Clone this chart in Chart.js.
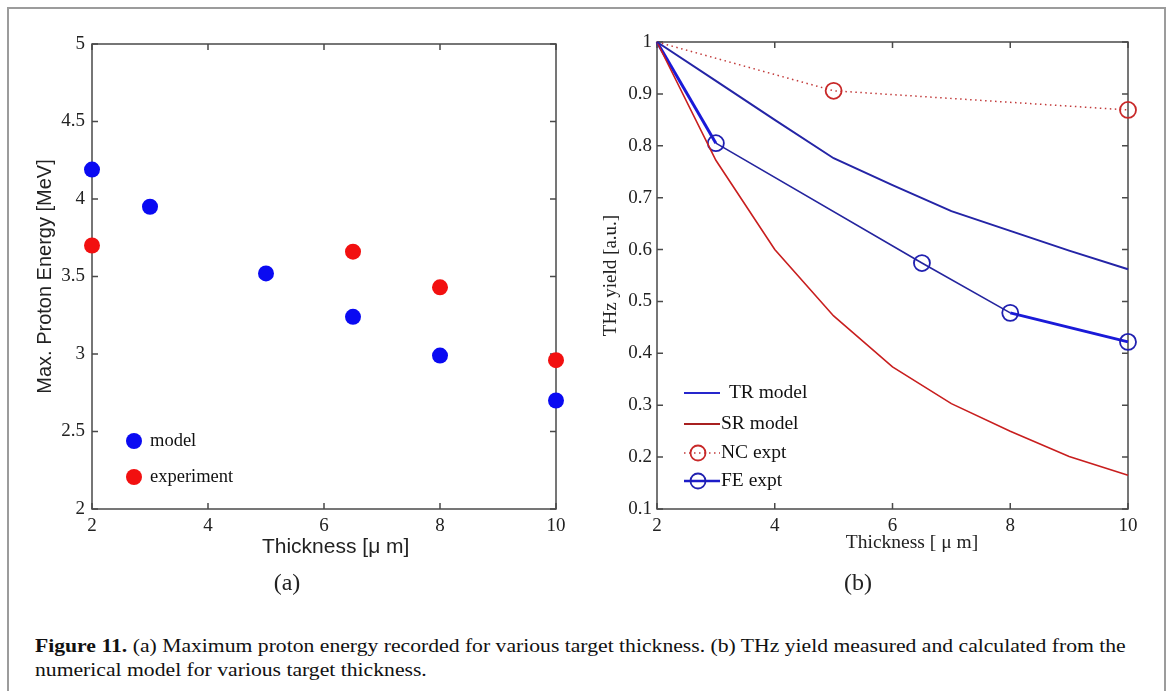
<!DOCTYPE html>
<html>
<head>
<meta charset="utf-8">
<script src="https://cdn.jsdelivr.net/npm/chart.js@4.4.1/dist/chart.umd.min.js"></script>
<style>
  html, body { margin: 0; padding: 0; background: #fff; }
  #page { position: relative; width: 1170px; height: 691px; overflow: hidden; background: #fff; }
  #frame { position: absolute; left: 7px; top: 7px; width: 1155px; height: 720px; border: 2px solid #9c9c9c; }
  .box { position: absolute; }
  .sub { position: absolute; font-family: "Liberation Serif", "Times New Roman", serif; font-size: 24px; color: #222; transform: translate(-50%, -50%); white-space: nowrap; }
  #caption { position: absolute; left: 35px; top: 634px; font-family: "Liberation Serif", "Times New Roman", serif; font-size: 19px; line-height: 24px; color: #111; white-space: nowrap; transform: scaleX(1.14); transform-origin: 0 0; }
</style>
</head>
<body>
<div id="page">
  <div id="frame"></div>
  <div class="box" style="left:0;top:0;width:590px;height:600px;"><canvas id="chartA"></canvas></div>
  <div class="box" style="left:590px;top:0;width:570px;height:600px;"><canvas id="chartB"></canvas></div>
  <div class="sub" style="left:287px;top:582px;">(a)</div>
  <div class="sub" style="left:858px;top:582px;">(b)</div>
  <div id="caption"><b>Figure 11.</b> (a) Maximum proton energy recorded for various target thickness. (b) THz yield measured and calculated from the<br>numerical model for various target thickness.</div>
</div>
<script>
// ---------- Data: panel (a) ----------
const modelThickness = [2, 3, 5, 6.5, 8, 10];
const modelEnergy    = [4.19, 3.95, 3.52, 3.24, 2.99, 2.70];
const exptThickness  = [2, 6.5, 8, 10];
const exptEnergy     = [3.70, 3.66, 3.43, 2.96];
const aXTicks = [2, 4, 6, 8, 10];
const aYTicks = [2, 2.5, 3, 3.5, 4, 4.5, 5];

// ---------- Data: panel (b) ----------
const modelGridThickness = [2, 3, 4, 5, 6, 7, 8, 9, 10];
const trModelYield = [1.0, 0.925, 0.85, 0.776, 0.724, 0.674, 0.636, 0.598, 0.562];
const srModelYield = [1.0, 0.772, 0.600, 0.472, 0.374, 0.303, 0.250, 0.201, 0.165];
const ncThickness = [2, 5, 10];
const ncYield     = [1.0, 0.906, 0.869];
const feThickness = [2, 3, 6.5, 8, 10];
const feYield     = [1.0, 0.805, 0.574, 0.478, 0.422];
const bXTicks = [2, 4, 6, 8, 10];
const bYTicks = [0.1, 0.2, 0.3, 0.4, 0.5, 0.6, 0.7, 0.8, 0.9, 1];

const SERIF = '"Liberation Serif", "Times New Roman", serif';
const SANS = '"Liberation Sans", Arial, sans-serif';

function pts(xs, ys) { return xs.map((x, i) => ({ x: x, y: ys[i] })); }

// plugin: axes box with inward ticks on all four sides
const boxTicks = {
  id: 'boxTicks',
  beforeDatasetsDraw(chart, args, opts) {
    const { ctx, chartArea: a, scales } = chart;
    const xs = scales.x, ys = scales.y;
    const L = opts.len || 6;
    ctx.save();
    ctx.strokeStyle = opts.color || '#444';
    ctx.lineWidth = opts.width || 1.5;
    ctx.strokeRect(a.left, a.top, a.right - a.left, a.bottom - a.top);
    ctx.beginPath();
    xs.ticks.forEach(t => {
      const p = xs.getPixelForValue(t.value);
      ctx.moveTo(p, a.bottom); ctx.lineTo(p, a.bottom - L);
      ctx.moveTo(p, a.top); ctx.lineTo(p, a.top + L);
    });
    ys.ticks.forEach(t => {
      const p = ys.getPixelForValue(t.value);
      ctx.moveTo(a.left, p); ctx.lineTo(a.left + L, p);
      ctx.moveTo(a.right, p); ctx.lineTo(a.right - L, p);
    });
    ctx.stroke();
    ctx.restore();
  }
};

// plugin: legend drawn inside the plot area
const innerLegend = {
  id: 'innerLegend',
  afterDatasetsDraw(chart, args, opts) {
    const { ctx } = chart;
    ctx.save();
    ctx.font = opts.font;
    ctx.textBaseline = 'middle';
    ctx.fillStyle = '#111';
    chart.data.datasets.forEach((ds, i) => {
      const it = opts.items[i];
      if (!it) return;
      const y = it.y;
      if (opts.kind === 'marker') {
        ctx.beginPath();
        ctx.fillStyle = ds.backgroundColor;
        ctx.arc(it.mx, y, ds.pointRadius, 0, Math.PI * 2);
        ctx.fill();
      } else {
        ctx.beginPath();
        ctx.strokeStyle = ds.legendColor || ds.borderColor;
        ctx.lineWidth = ds.legendWidth || 2;
        ctx.setLineDash(ds.borderDash || []);
        ctx.moveTo(opts.lx0, y); ctx.lineTo(opts.lx1, y);
        ctx.stroke();
        ctx.setLineDash([]);
        if (ds.legendMarker) {
          ctx.beginPath();
          ctx.strokeStyle = ds.pointBorderColor || ds.borderColor;
          ctx.lineWidth = 1.8;
          ctx.arc(opts.mx, y, 7.5, 0, Math.PI * 2);
          ctx.stroke();
        }
      }
      ctx.fillStyle = '#111';
      ctx.fillText(ds.label, it.tx, y);
    });
    ctx.restore();
  }
};

// ---------- Chart (a) ----------
new Chart(document.getElementById('chartA'), {
  type: 'scatter',
  data: {
    datasets: [
      { label: 'model', data: pts(modelThickness, modelEnergy), backgroundColor: '#0a0af2', borderWidth: 0, pointRadius: 8, pointHoverRadius: 8 },
      { label: 'experiment', data: pts(exptThickness, exptEnergy), backgroundColor: '#f21010', borderWidth: 0, pointRadius: 8, pointHoverRadius: 8 }
    ]
  },
  options: {
    responsive: true, maintainAspectRatio: false, animation: false,
    clip: false,
    layout: { padding: { left: 0, right: 34, top: 44, bottom: 40 } },
    plugins: {
      legend: { display: false }, tooltip: { enabled: false },
      boxTicks: { len: 6, color: '#4a4a4a', width: 1.5 },
      innerLegend: { kind: 'marker', font: '18.5px ' + SERIF,
        items: [ { mx: 134, tx: 150, y: 441 }, { mx: 134, tx: 150, y: 477 } ] }
    },
    scales: {
      x: {
        type: 'linear', min: 2, max: 10,
        afterBuildTicks: s => { s.ticks = aXTicks.map(v => ({ value: v })); },
        afterFit: s => { s.height = 51; },
        grid: { display: false, drawTicks: false }, border: { display: false },
        ticks: { padding: 6, color: '#222', font: { family: SERIF, size: 19 }, maxRotation: 0, callback: v => String(v) },
        title: { display: true, text: '    Thickness [\u03bc m]', color: '#222', font: { family: SANS, size: 21 }, padding: { top: 0, bottom: 0 } }
      },
      y: {
        type: 'linear', min: 2, max: 5,
        afterBuildTicks: s => { s.ticks = aYTicks.map(v => ({ value: v })); },
        afterFit: s => { s.width = 92; },
        grid: { display: false, drawTicks: false }, border: { display: false },
        ticks: { padding: 7, color: '#222', font: { family: SERIF, size: 19 }, callback: v => String(v) },
        title: { display: true, text: 'Max. Proton Energy [MeV]', color: '#222', font: { family: SANS, size: 20 }, padding: { top: 33, bottom: 0 } }
      }
    }
  },
  plugins: [boxTicks, innerLegend]
});

// ---------- Chart (b) ----------
new Chart(document.getElementById('chartB'), {
  type: 'line',
  data: {
    datasets: [
      { label: ' TR model', data: pts(modelGridThickness, trModelYield), borderColor: '#2424a6', borderWidth: 2, pointRadius: 0, tension: 0, legendWidth: 1.8, legendColor: '#2626cc' },
      { label: 'SR model', data: pts(modelGridThickness, srModelYield), borderColor: '#c81e1e', borderWidth: 1.6, pointRadius: 0, tension: 0, legendWidth: 1.8, legendColor: '#a82020' },
      { label: 'NC expt', data: pts(ncThickness, ncYield), borderColor: '#c23a3a', borderWidth: 1.5, borderDash: [1.5, 3.5],
        pointRadius: [0, 8, 8], pointBorderColor: '#c82828', pointBackgroundColor: 'rgba(0,0,0,0)', pointBorderWidth: 1.8, tension: 0, legendMarker: true, legendWidth: 1.5 },
      { label: 'FE expt', data: pts(feThickness, feYield), borderColor: '#24249e', borderWidth: 1.6,
        segment: { borderWidth: c => (c.p0DataIndex === 0 || c.p0DataIndex === 3) ? 3 : 1.6, borderColor: c => (c.p0DataIndex === 0 || c.p0DataIndex === 3) ? '#1a1ad8' : '#24249e' },
        pointRadius: [0, 8, 8, 8, 8], pointBorderColor: '#2020b0', pointBackgroundColor: 'rgba(0,0,0,0)', pointBorderWidth: 1.8, tension: 0, legendMarker: true, legendWidth: 2.4, legendColor: '#1c1cc8' }
    ]
  },
  options: {
    responsive: true, maintainAspectRatio: false, animation: false,
    clip: false,
    layout: { padding: { left: 0, right: 32, top: 42, bottom: 45 } },
    plugins: {
      legend: { display: false }, tooltip: { enabled: false },
      boxTicks: { len: 6, color: '#4a4a4a', width: 1.5 },
      innerLegend: { kind: 'line', font: '19.5px ' + SERIF, lx0: 684 - 590, lx1: 720 - 590, mx: 698 - 590,
        items: [ { tx: 724, y: 393 }, { tx: 721, y: 424 }, { tx: 721, y: 453 }, { tx: 721, y: 481 } ].map(o => ({ tx: o.tx - 590, y: o.y })) }
    },
    scales: {
      x: {
        type: 'linear', min: 2, max: 10,
        afterBuildTicks: s => { s.ticks = bXTicks.map(v => ({ value: v })); },
        afterFit: s => { s.height = 46; },
        grid: { display: false, drawTicks: false }, border: { display: false },
        ticks: { padding: 6, color: '#222', font: { family: SERIF, size: 19 }, maxRotation: 0, callback: v => String(v) },
        title: { display: true, text: '        Thickness [ \u03bc m]', color: '#222', font: { family: SERIF, size: 19.5 }, padding: { top: 0, bottom: 0 } }
      },
      y: {
        type: 'linear', min: 0.1, max: 1,
        afterBuildTicks: s => { s.ticks = bYTicks.map(v => ({ value: v })); },
        afterFit: s => { s.width = 67; },
        grid: { display: false, drawTicks: false }, border: { display: false },
        ticks: { padding: 5, color: '#222', font: { family: SERIF, size: 19 }, callback: v => String(v) },
        title: { display: true, text: 'THz yield [a.u.]', color: '#222', font: { family: SERIF, size: 19 }, padding: { top: 10, bottom: 0 } }
      }
    }
  },
  plugins: [boxTicks, innerLegend]
});
</script>
</body>
</html>
